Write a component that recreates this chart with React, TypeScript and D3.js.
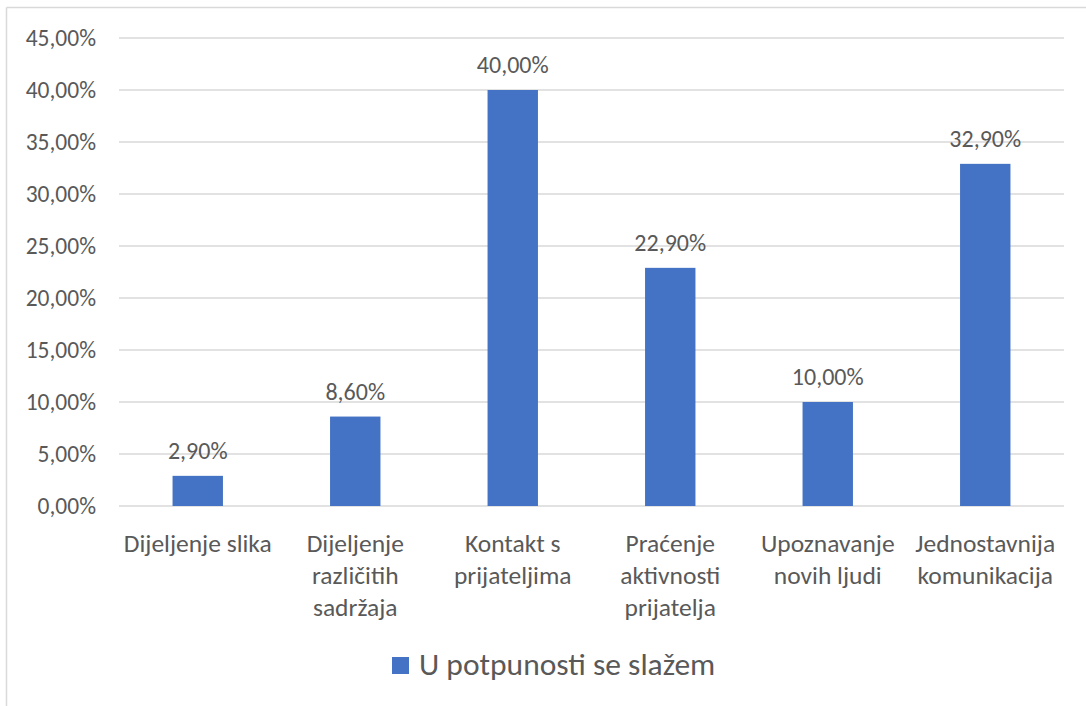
import React from "react";
import * as d3 from "d3";

const categories: string[][] = [
  ["Dijeljenje slika"],
  ["Dijeljenje", "različitih", "sadržaja"],
  ["Kontakt s", "prijateljima"],
  ["Praćenje", "aktivnosti", "prijatelja"],
  ["Upoznavanje", "novih ljudi"],
  ["Jednostavnija", "komunikacija"],
];
const values: number[] = [2.9, 8.6, 40.0, 22.9, 10.0, 32.9];
const yTicks: number[] = [0, 5, 10, 15, 20, 25, 30, 35, 40, 45];
const seriesName = "U potpunosti se slažem";

const W = 1086;
const H = 706;
const FONT = "Carlito, Calibri, Lato, sans-serif";
const TEXT = "#595959";
const BAR = "#4472C4";
const GRID = "#D9D9D9";

const fmt = (v: number) => v.toFixed(2).replace(".", ",") + "%";

export default function App() {
  const left = 119;
  const right = 1064;
  const top = 38;
  const bottom = 506;
  const x = d3
    .scaleBand<number>()
    .domain(categories.map((_, i) => i))
    .range([left, right])
    .paddingInner(0.68)
    .paddingOuter(0.34);
  const y = d3.scaleLinear().domain([0, 45]).range([bottom, top]);

  return (
    <svg
      width={W}
      height={H}
      style={{ position: "absolute", left: 0, top: 0, background: "#fff" }}
      fontFamily={FONT}
    >
      <rect x={0} y={0} width={W} height={H} fill="#fff" />
      <line x1={6.5} y1={7.5} x2={W} y2={7.5} stroke={GRID} strokeWidth={1.5} />
      <line x1={6.5} y1={7.5} x2={6.5} y2={H} stroke={GRID} strokeWidth={1.5} />
      {yTicks.map((t) => (
        <g key={t}>
          <line x1={left} x2={right} y1={y(t)} y2={y(t)} stroke={GRID} strokeWidth={1.5} />
          <text
            x={96}
            y={y(t)}
            dy="0.35em"
            textAnchor="end"
            fontSize={23.5}
            fill={TEXT}
          >
            {fmt(t)}
          </text>
        </g>
      ))}
      {values.map((v, i) => {
        const bx = x(i)!;
        const bw = x.bandwidth();
        return (
          <g key={i}>
            <rect x={bx} y={y(v)} width={bw} height={bottom - y(v)} fill={BAR} />
            <text
              x={bx + bw / 2}
              y={y(v) - 17}
              textAnchor="middle"
              fontSize={24}
              fill={TEXT}
            >
              {fmt(v)}
            </text>
          </g>
        );
      })}
      {categories.map((lines, i) => {
        const cx = x(i)! + x.bandwidth() / 2;
        return (
          <text key={i} textAnchor="middle" fontSize={25.5} fill={TEXT}>
            {lines.map((l, j) => (
              <tspan key={j} x={cx} y={552 + j * 32}>
                {l}
              </tspan>
            ))}
          </text>
        );
      })}
      <rect x={392} y={657} width={17} height={17} fill={BAR} />
      <text x={419} y={675} fontSize={31.5} fill={TEXT}>
        {seriesName}
      </text>
    </svg>
  );
}
